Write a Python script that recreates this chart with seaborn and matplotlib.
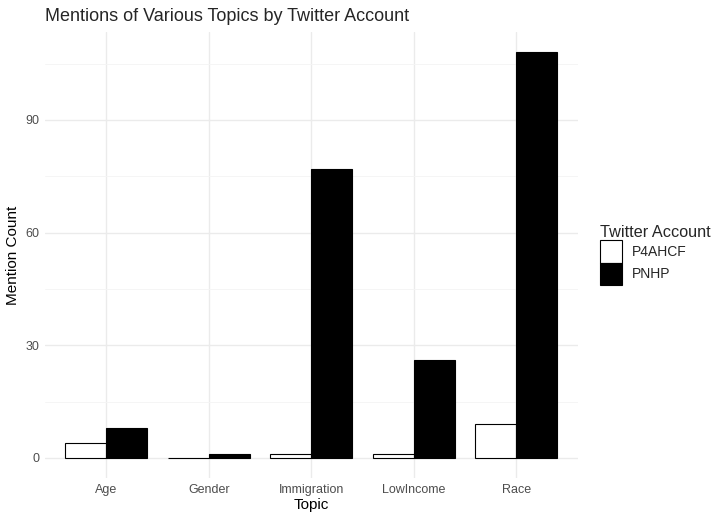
import pandas as pd
import numpy as np
import matplotlib
matplotlib.use("Agg")
import matplotlib.pyplot as plt
import seaborn as sns
from matplotlib.ticker import MultipleLocator

# ==========================================================
# DATA
# ==========================================================

topics = ["Age", "Gender", "Immigration", "LowIncome", "Race"]
p4ahcf_counts = [4, 0, 1, 1, 9]
pnhp_counts = [8, 1, 77, 26, 108]
accounts = ["P4AHCF", "PNHP"]

df = pd.DataFrame({
    "Topic": topics * 2,
    "Account": [accounts[0]] * len(topics) + [accounts[1]] * len(topics),
    "Count": p4ahcf_counts + pnhp_counts,
})

# ==========================================================
# PLOT
# ==========================================================

sns.set_style("white")
plt.rcParams["font.family"] = ["Liberation Sans", "DejaVu Sans"]

fig = plt.figure(figsize=(7.2, 5.26), dpi=100)
ax = fig.add_axes([0.0625, 0.091, 0.740, 0.848])

sns.barplot(
    data=df, x="Topic", y="Count", hue="Account",
    hue_order=accounts, order=topics,
    palette={"P4AHCF": "white", "PNHP": "black"},
    edgecolor="black", linewidth=0.8, width=0.8,
    ax=ax, zorder=3,
)

ymax = max(pnhp_counts)
ax.set_ylim(-0.05 * ymax, ymax * 1.05)
ax.set_xlim(-0.6, len(topics) - 0.4)

ax.yaxis.set_major_locator(MultipleLocator(30))
ax.yaxis.set_minor_locator(MultipleLocator(15))
ax.grid(axis="y", which="major", color="#ebebeb", linewidth=1.0, zorder=0)
ax.grid(axis="y", which="minor", color="#f4f4f4", linewidth=0.6, zorder=0)
ax.grid(axis="x", which="major", color="#ebebeb", linewidth=1.0, zorder=0)
ax.set_axisbelow(True)

for s in ax.spines.values():
    s.set_visible(False)
ax.tick_params(axis="both", which="both", length=0, labelsize=9,
               labelcolor="#4d4d4d", pad=4)

ax.set_xlabel("Topic", fontsize=11, color="black", labelpad=2)
ax.set_ylabel("Mention Count", fontsize=11, color="black", labelpad=4)
ax.set_title("Mentions of Various Topics by Twitter Account",
             fontsize=13, loc="left", pad=8)

leg = ax.legend(
    title="Twitter Account", loc="center left",
    bbox_to_anchor=(1.018, 0.5), frameon=False,
    fontsize=10, title_fontsize=11.7,
    handlelength=1.6, handleheight=2.1, handletextpad=0.7,
    labelspacing=0.0,
)
leg._legend_box.align = "left"
for h in leg.legend_handles:
    h.set_edgecolor("black")
    h.set_linewidth(0.8)

plt.savefig("out.png", dpi=100)
